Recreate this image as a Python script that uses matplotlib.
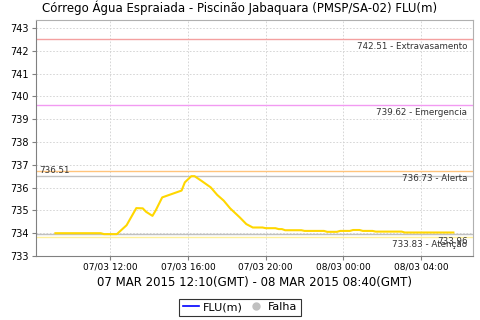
import matplotlib
matplotlib.use("Agg")
import matplotlib.pyplot as plt
import matplotlib.dates as mdates
from matplotlib.lines import Line2D
from datetime import datetime, timedelta

# ---- data (local time, GMT-3) ----
times = ["07/03 09:10", "07/03 11:30", "07/03 11:40", "07/03 12:20", "07/03 12:50",
         "07/03 13:20", "07/03 13:40", "07/03 13:50", "07/03 14:10", "07/03 14:20",
         "07/03 14:40", "07/03 14:50", "07/03 15:10", "07/03 15:20", "07/03 15:40",
         "07/03 15:50", "07/03 16:10", "07/03 16:20", "07/03 16:40", "07/03 17:10",
         "07/03 17:30", "07/03 17:50", "07/03 18:10", "07/03 18:40", "07/03 19:00",
         "07/03 19:20", "07/03 19:50", "07/03 20:00", "07/03 20:30", "07/03 20:40",
         "07/03 20:50", "07/03 21:00", "07/03 21:50", "07/03 22:00", "07/03 23:00",
         "07/03 23:10", "07/03 23:40", "07/03 23:50", "08/03 00:20", "08/03 00:30",
         "08/03 00:50", "08/03 01:00", "08/03 01:30", "08/03 01:40", "08/03 03:00",
         "08/03 03:10", "08/03 05:40"]
values = [734.00, 734.00, 733.96, 733.96, 734.35,
          735.10, 735.09, 734.94, 734.76, 735.00,
          735.57, 735.62, 735.72, 735.77, 735.87,
          736.23, 736.50, 736.50, 736.31, 736.01,
          735.68, 735.43, 735.09, 734.69, 734.40,
          734.25, 734.25, 734.22, 734.22, 734.18,
          734.18, 734.13, 734.13, 734.10, 734.10,
          734.06, 734.06, 734.10, 734.10, 734.14,
          734.14, 734.10, 734.10, 734.07, 734.07,
          734.03, 734.03]

thr_values = [742.51, 739.62, 736.73, 733.83]
thr_labels = ["742.51 - Extravasamento", "739.62 - Emergencia", "736.73 - Alerta", "733.83 - Atenção"]
thr_colors = ["#f4a0a0", "#f29af2", "#ffc47c", "#fff09a"]
ref_values = [736.51, 733.96]

title = "Córrego Água Espraiada - Piscinão Jabaquara (PMSP/SA-02) FLU(m)"
xlabel = "07 MAR 2015 12:10(GMT) - 08 MAR 2015 08:40(GMT)"
yticks = list(range(733, 744))

dts = [datetime.strptime("2015/" + t, "%Y/%d/%m %H:%M") for t in times]

fig = plt.figure(figsize=(4.8, 3.2), dpi=100)
ax = fig.add_axes([0.075, 0.2, 0.91, 0.7375])

start = dts[0] - timedelta(minutes=60)
end = dts[-1] + timedelta(minutes=60)
ax.set_xlim(start, end)
ax.set_ylim(733, 743.35)

# grid
ax.grid(True, color="#d0d0d0", linestyle=(0, (2, 2)), linewidth=0.6)
ax.set_axisbelow(True)

# threshold lines
for v, c in zip(thr_values, thr_colors):
    ax.axhline(v, color=c, linewidth=1.0, zorder=2)
for v in ref_values:
    ax.axhline(v, color="#c0c0c0", linewidth=1.0, zorder=2)

# series
ax.plot(dts, values, color="#ffd700", linewidth=1.5, zorder=3)

# labels for thresholds
tr = ax.get_yaxis_transform()
for v, lab in zip(thr_values, thr_labels):
    ax.annotate(lab, xy=(1, v), xycoords=tr, xytext=(-4, -2), textcoords="offset points",
                ha="right", va="top", fontsize=6.3, color="#333333")
ax.annotate(f"{ref_values[0]:.2f}", xy=(0, ref_values[0]), xycoords=tr, xytext=(2, 1),
            textcoords="offset points", ha="left", va="bottom", fontsize=6.3, color="#333333")
ax.annotate(f"{ref_values[1]:.2f}", xy=(1, ref_values[1]), xycoords=tr, xytext=(-4, -2),
            textcoords="offset points", ha="right", va="top", fontsize=6.3, color="#333333")

ax.set_yticks(yticks)
ax.set_yticklabels([str(t) for t in yticks], fontsize=7)
ax.xaxis.set_major_locator(mdates.HourLocator(byhour=[0, 4, 8, 12, 16, 20]))
ax.xaxis.set_major_formatter(mdates.DateFormatter("%d/%m %H:%M"))
ax.tick_params(axis="x", labelsize=6.5, length=3, color="#808080", pad=2)
ax.tick_params(axis="y", length=3, color="#808080", pad=2)

for s in ["left", "bottom"]:
    ax.spines[s].set_color("#808080")
for s in ["top", "right"]:
    ax.spines[s].set_color("#b0b0b0")

ax.set_xlabel(xlabel, fontsize=8.5, labelpad=3)
fig.text(0.5, 0.975, title, ha="center", va="center", fontsize=8.5)

handles = [Line2D([0], [0], color="blue", linewidth=1.2),
           Line2D([0], [0], marker="o", color="none", markerfacecolor="#c0c0c0",
                  markeredgecolor="#c0c0c0", markersize=5)]
leg = fig.legend(handles, ["FLU(m)", "Falha"], loc="center", bbox_to_anchor=(0.5, 0.04),
                 ncol=2, fontsize=8, frameon=True, fancybox=False, handlelength=1.5,
                 handletextpad=0.3, columnspacing=0.5, borderpad=0.3, edgecolor="black")
leg.get_frame().set_linewidth(0.8)

fig.savefig("out.png", dpi=100)
